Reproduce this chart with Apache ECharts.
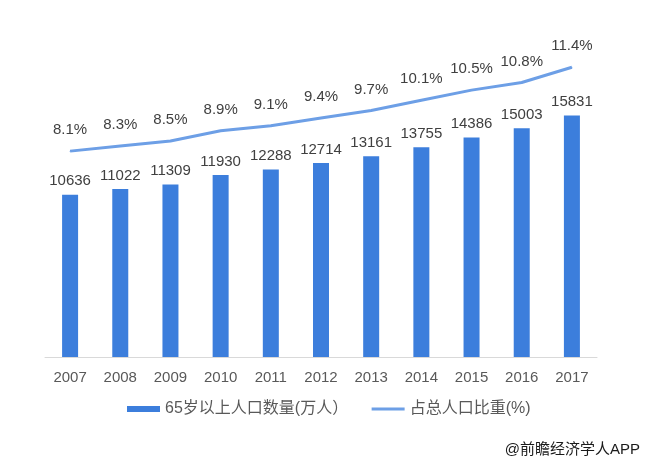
<!DOCTYPE html>
<html><head><meta charset="utf-8">
<script src="https://cdn.jsdelivr.net/npm/echarts@6/dist/echarts.min.js"></script>
<style>html,body{margin:0;padding:0;background:#fff}#c{width:650px;height:466px}</style>
</head><body><div id="c"></div>
<script>
const years = ['2007','2008','2009','2010','2011','2012','2013','2014','2015','2016','2017'];
const population = [10636,11022,11309,11930,12288,12714,13161,13755,14386,15003,15831];
const share = [8.1,8.3,8.5,8.9,9.1,9.4,9.7,10.1,10.5,10.8,11.4];
const barName = '65岁以上人口数量(万人）';
const lineName = '占总人口比重(%)';
const font = '"Liberation Sans", Arial, "Noto Sans CJK SC", sans-serif';

const chart = echarts.init(document.getElementById('c'));
chart.setOption({
  animation: false,
  textStyle: { fontFamily: font },
  grid: { left: 45, right: 53, top: 52, bottom: 109 },
  legend: {
    left: 127, top: 401, padding: 0,
    itemWidth: 33, itemHeight: 6, itemGap: 22,
    textStyle: { fontSize: 16, color: '#595959', fontFamily: font },
    data: [
      { name: barName, icon: 'rect' },
      { name: lineName, itemStyle: { opacity: 0 }, lineStyle: { width: 3, color: '#6d9fe6' } }
    ]
  },
  graphic: [{
    type: 'text', right: 10, top: 442,
    style: { text: '@前瞻经济学人APP', fontSize: 15, fill: '#1a1a1a', fontFamily: font }
  }],
  xAxis: {
    type: 'category', data: years,
    axisLine: { lineStyle: { color: '#d9d9d9' } },
    axisTick: { show: false },
    axisLabel: { fontSize: 15, color: '#595959', margin: 13 }
  },
  yAxis: [
    { type: 'value', min: 0, max: 20000, show: false, splitLine: { show: false } },
    { type: 'value', min: 0, max: 12, show: false, splitLine: { show: false } }
  ],
  series: [
    {
      name: barName, type: 'bar', data: population, barWidth: 16,
      itemStyle: { color: '#3c7edc' },
      label: { show: true, position: 'top', distance: 6, fontSize: 15, color: '#404040' }
    },
    {
      name: lineName, type: 'line', yAxisIndex: 1, data: share,
      symbol: 'circle', symbolSize: 1, showSymbol: true, smooth: false,
      lineStyle: { color: '#6d9fe6', width: 3 },
      itemStyle: { color: '#6d9fe6' },
      label: { show: true, position: 'top', distance: 13, fontSize: 15, color: '#404040', formatter: p => p.value.toFixed(1) + '%' }
    }
  ]
});
</script></body></html>
